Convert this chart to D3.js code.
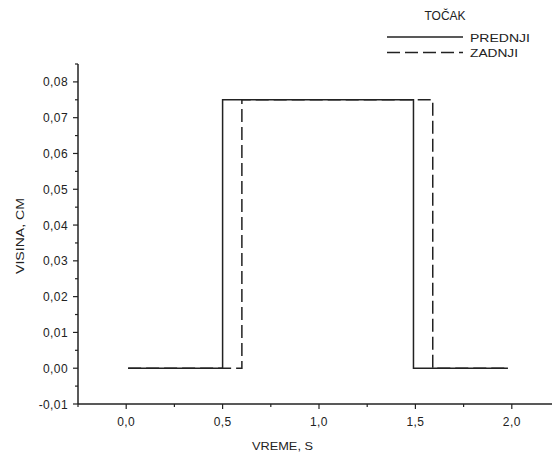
<!DOCTYPE html>
<html><head><meta charset="utf-8">
<script src="https://cdn.jsdelivr.net/npm/d3@7"></script>
<style>body{margin:0;background:#fff}text{font-family:"Liberation Sans",Arial,sans-serif;fill:#222}</style>
</head><body><svg id="c" width="552" height="452"></svg>
<script>
const seriesNames = ["PREDNJI", "ZADNJI"];
const legendTitle = "TOČAK";
const prednjiX = [0.01, 0.5, 0.5, 1.49, 1.49, 1.98];
const prednjiY = [0, 0, 0.075, 0.075, 0, 0];
const zadnjiX = [0.01, 0.6, 0.6, 1.59, 1.59, 1.98];
const zadnjiY = [0, 0, 0.075, 0.075, 0, 0];
const xTicks = [0.0, 0.5, 1.0, 1.5, 2.0];
const yTicks = [-0.01, 0.00, 0.01, 0.02, 0.03, 0.04, 0.05, 0.06, 0.07, 0.08];
const xTitle = "VREME, S";
const yTitle = "VISINA, CM";

const svg = d3.select("#c");
const x = d3.scaleLinear().domain([-0.25, 2.25]).range([78, 560]);
const y = d3.scaleLinear().domain([-0.01, 0.085]).range([404, 64]);
const fmt = v => d3.format(".1f")(v).replace(".", ",");
const fmtY = v => d3.format(".2f")(v).replace(".", ",").replace("−","-");

// x axis
const gx = svg.append("g").attr("transform", "translate(0,404)");
gx.append("line").attr("x1", 78).attr("x2", 560).attr("stroke", "#222").attr("stroke-width", 1.5);
const xMinor = d3.range(-0.25, 2.26, 0.25);
gx.selectAll(".xm").data(xMinor).join("line")
  .attr("x1", d => x(d)).attr("x2", d => x(d)).attr("y1", 0)
  .attr("y2", d => xTicks.some(t => Math.abs(t - d) < 1e-9) ? 5 : 3)
  .attr("stroke", "#222").attr("stroke-width", 1.2);
gx.selectAll(".xl").data(xTicks).join("text")
  .attr("x", d => x(d)).attr("y", 22).attr("text-anchor", "middle")
  .attr("font-size", 12).attr("letter-spacing", 0.4).text(fmt);

// y axis
const gy = svg.append("g").attr("transform", "translate(78,0)");
gy.append("line").attr("y1", 64).attr("y2", 404).attr("stroke", "#222").attr("stroke-width", 1.5);
const yMinor = d3.range(-0.01, 0.0851, 0.005);
gy.selectAll(".ym").data(yMinor).join("line")
  .attr("y1", d => y(d)).attr("y2", d => y(d)).attr("x1", 0)
  .attr("x2", d => yTicks.some(t => Math.abs(t - d) < 1e-9) ? -5 : -3)
  .attr("stroke", "#222").attr("stroke-width", 1.2);
gy.selectAll(".yl").data(yTicks).join("text")
  .attr("x", -10).attr("y", d => y(d) + 4.5).attr("text-anchor", "end")
  .attr("font-size", 12).attr("letter-spacing", 0.4).text(fmtY);

svg.append("text").attr("x", 252).attr("y", 450).attr("font-size", 11.5)
  .attr("textLength", 61).attr("lengthAdjust", "spacingAndGlyphs").text(xTitle);
svg.append("text").attr("transform", "translate(24,274) rotate(-90)").attr("font-size", 11.5)
  .attr("textLength", 76).attr("lengthAdjust", "spacingAndGlyphs").text(yTitle);

const line = d3.line().x(d => x(d[0])).y(d => y(d[1]));
const p1 = prednjiX.map((v, i) => [v, prednjiY[i]]);
const p2 = zadnjiX.map((v, i) => [v, zadnjiY[i]]);
svg.append("path").attr("d", line(p1)).attr("fill", "none").attr("stroke", "#222").attr("stroke-width", 1.5);
svg.append("path").attr("d", line(p2)).attr("fill", "none").attr("stroke", "#222").attr("stroke-width", 1.5).attr("stroke-dasharray", "13,5");

// legend
svg.append("text").attr("x", 445).attr("y", 20).attr("text-anchor", "middle").attr("font-size", 12)
  .text(legendTitle);
const dashes = [null, "13,5"];
const legendWidths = [60, 48];
seriesNames.forEach((n, i) => {
  const ly = 37 + i * 15.5;
  svg.append("line").attr("x1", 387).attr("x2", 463).attr("y1", ly).attr("y2", ly)
    .attr("stroke", "#222").attr("stroke-width", 1.5).attr("stroke-dasharray", dashes[i]);
  svg.append("text").attr("x", 470).attr("y", ly + 4.5).attr("font-size", 11.5)
    .attr("textLength", legendWidths[i]).attr("lengthAdjust", "spacingAndGlyphs").text(n);
});
</script></body></html>
